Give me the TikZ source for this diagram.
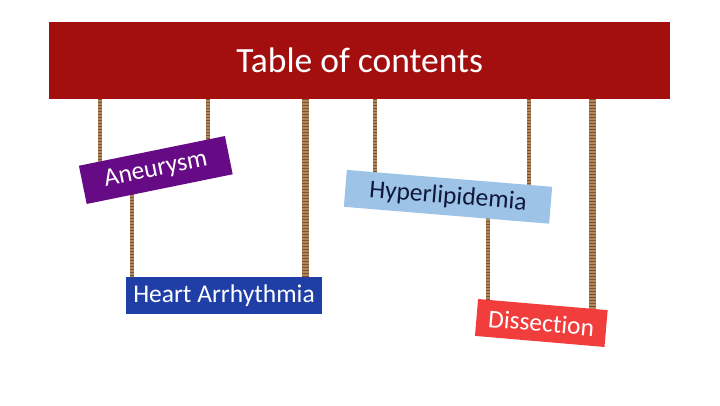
\documentclass[tikz,border=0pt]{standalone}
\usepackage{fontspec}
\setmainfont{Carlito}[Ligatures={NoCommon}]
\usetikzlibrary{backgrounds}
\definecolor{bannerred}{HTML}{A30F0F}
\definecolor{aneupurple}{HTML}{660A85}
\definecolor{heartblue}{HTML}{1F3FA6}
\definecolor{hyperblue}{HTML}{9DC3E6}
\definecolor{hypertext}{HTML}{10183A}
\definecolor{dissred}{HTML}{F23D3D}
\definecolor{ropebrown}{HTML}{B08758}
\definecolor{ropedark}{HTML}{7A5332}
\tikzset{x=1pt, y=-1pt,
	tag/.style={inner sep=0pt, minimum height=37pt, text=white, font=\fontsize{25.5}{30}\selectfont},
	rope/.style={line width=#1, draw=ropebrown, postaction={draw=ropedark, line width=#1, dash pattern=on 1pt off 2pt}},
	rope/.default=4pt}

\begin{document}
\begin{tikzpicture}
		\useasboundingbox(0,0) rectangle (720,405);
		\node(banner)[fill=bannerred, inner sep=0pt, minimum width=621pt, minimum height=77.5pt, text=white, font=\fontsize{35.5}{40}\selectfont] at (359.7,60.5){Table of contents};
		\node(aneu)[tag, fill=aneupurple, minimum width=149pt, minimum height=39pt, rotate=11.5] at (155.8,170){Aneurysm};
		\node(heart)[tag, fill=heartblue, minimum width=196pt] at (224,295.5){Heart Arrhythmia};
		\node(hyper)[tag, fill=hyperblue, text=hypertext, minimum width=206pt, rotate=-4.7] at (448,196.8){Hyperlipidemia};
		\node(diss)[tag, fill=dissred, minimum width=130pt, rotate=-4.9] at (541.3,323){Dissection};
		\coordinate(h1) at (100,99);
		\coordinate(h2) at (208,99);
		\coordinate(h3) at (305,99);
		\coordinate(h4) at (375,99);
		\coordinate(h5) at (529,99);
		\coordinate(h6) at (592,99);
		\coordinate(l1) at (132,0);
		\coordinate(l2) at (488,0);
		\begin{scope}[on background layer]
			\draw[rope](h1) -- (h1 |- aneu.center);
			\draw[rope](h2) -- (h2 |- aneu.center);
			\draw[rope=7pt](h3) -- (h3 |- heart.center);
			\draw[rope](l1 |- aneu.center) -- (l1 |- heart.center);
			\draw[rope](h4) -- (h4 |- hyper.center);
			\draw[rope](h5) -- (h5 |- hyper.center);
			\draw[rope=7pt](h6) -- (h6 |- diss.center);
			\draw[rope](l2 |- hyper.center) -- (l2 |- diss.center);
		\end{scope}
	\end{tikzpicture}
\end{document}
